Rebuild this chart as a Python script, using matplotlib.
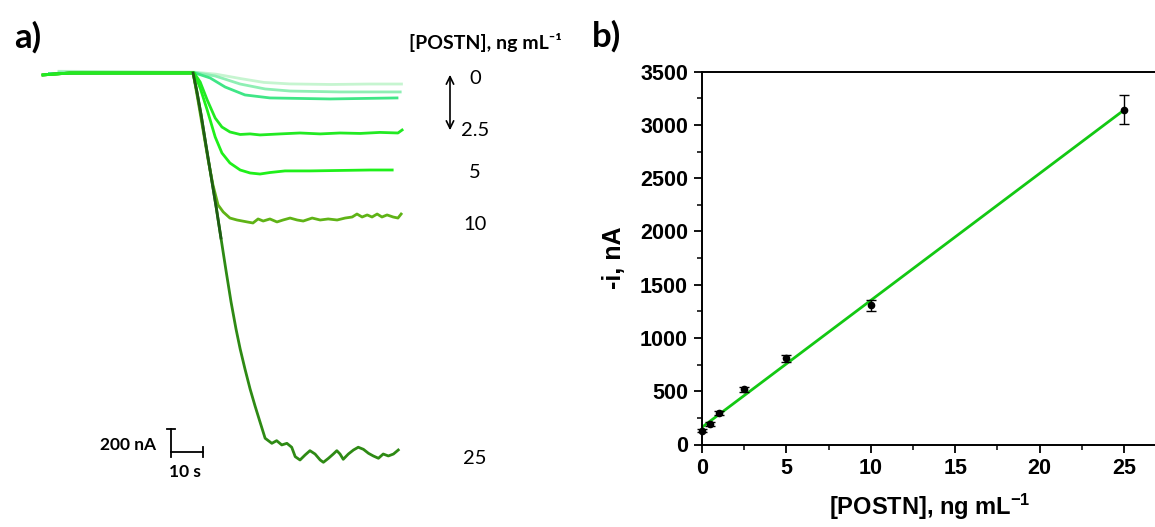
import matplotlib
matplotlib.use('Agg')
import matplotlib.pyplot as plt
from matplotlib.ticker import MultipleLocator

plt.rcParams['mathtext.fontset'] = 'custom'
plt.rcParams['mathtext.rm'] = 'Liberation Sans:bold'
plt.rcParams['mathtext.bf'] = 'Liberation Sans:bold'
plt.rcParams['mathtext.default'] = 'rm'

# ---- panel a: chronoamperometric traces (time in s, current in nA) ----
conc_labels = ['0', '2.5', '5', '10', '25']

t_0 = [5, 47, 54, 62, 69, 77, 90, 102, 112]
i_0 = [15, 8, -10, -50, -82, -95, -100, -96, -96]

t_05 = [5, 47.5, 53.8, 61.6, 69.4, 77.2, 92.8, 111.6]
i_05 = [9, 4, -26, -96, -139, -157, -165, -165]

t_1 = [2, 47.5, 52.2, 56.9, 63.1, 70.9, 89.7, 110.6]
i_1 = [-4, 0, -43, -122, -191, -217, -226, -217]

t_25 = [0, 8.4, 47.2, 49.1, 51.3, 53.8, 55.9, 58.4, 61.6, 64.7, 67.8, 74.1,
        80.3, 86.6, 92.8, 99.1, 105.3, 110.9, 112.2]
i_25 = [-17, 0, 0, -78, -235, -392, -470, -513, -535, -530, -539, -530,
        -522, -530, -522, -526, -517, -522, -496]

t_5 = [0, 8.4, 47.2, 49.1, 51.3, 53.8, 55.9, 58.4, 61.6, 64.7, 67.8, 70.9,
       75.6, 83.4, 92.8, 102.2, 109.1]
i_5 = [-17, 0, 0, -130, -322, -557, -696, -783, -844, -870, -879, -866,
       -852, -852, -848, -844, -844]

t_10 = [0, 8.4, 46.9, 48.4, 50.0, 51.6, 53.1, 54.7, 56.3, 58.4, 60.6, 63.8,
        65.6, 67.2, 68.8, 70.9, 73.1, 75.0, 77.2, 79.4, 81.3, 84.1, 86.6,
        89.1, 91.9, 94.4, 96.6, 98.1, 99.7, 101.3, 102.8, 104.4, 105.9,
        107.5, 109.4, 110.9, 111.9]
i_10 = [-17, 0, 0, -235, -496, -757, -974, -1148, -1209, -1262, -1279, -1296,
        -1305, -1270, -1288, -1270, -1296, -1279, -1262, -1279, -1288, -1262,
        -1279, -1270, -1279, -1262, -1253, -1227, -1253, -1235, -1253, -1227,
        -1253, -1235, -1253, -1262, -1227]

t_250 = [0, 8.4, 46.9, 48.1, 49.4, 50.9, 52.5, 54.1, 55.6, 57.2, 58.75,
         60.3, 61.6, 63.1, 64.7, 66.25, 67.8, 69.4, 71.5, 73.0, 74.6, 76.2,
         77.7, 78.8, 80.3, 81.9, 83.4, 85.0, 86.6, 87.6, 89.2, 90.7, 91.8,
         92.8, 93.8, 95.4, 97.0, 98.5, 100.1, 101.7, 103.2, 104.8, 106.3,
         107.9, 109.5, 111.0]
i_250 = [-17, 0, 0, -165, -365, -626, -896, -1166, -1436, -1723, -1992,
         -2227, -2401, -2575, -2749, -2897, -3036, -3178, -3222, -3199,
         -3236, -3222, -3256, -3338, -3367, -3323, -3286, -3315, -3367,
         -3387, -3352, -3315, -3286, -3315, -3361, -3315, -3280, -3256,
         -3274, -3309, -3332, -3352, -3315, -3332, -3315, -3280]

# dark upper part of the steepest decay
t_dark = [46.9, 48.1, 49.4, 50.9, 52.5, 54.1, 55.6]
i_dark = [0, -165, -365, -626, -896, -1166, -1436]

# ---- panel b: calibration ----
conc = [0, 0.5, 1, 2.5, 5, 10, 25]
current = [129, 192, 298, 518, 808, 1305, 3144]
current_err = [12, 15, 18, 22, 31, 55, 136]
fit_x = [0, 25]
fit_y = [162, 3140]

W, H = 1155, 527
fig = plt.figure(figsize=(W / 100, H / 100), dpi=100)


def fx(x):
    return x / W


def fy(y):
    return 1 - y / H


# ---------- panel a ----------
ax = fig.add_axes([0, 0, 0.5, 1])
ax.set_xlim(-13.44, 167.0)
ax.set_ylim(-3950, 635)
ax.axis('off')

lw = 2.0
ax.plot(t_0, i_0, color='#c6f5d0', lw=lw)
ax.plot(t_05, i_05, color='#8eefb4', lw=lw)
ax.plot(t_1, i_1, color='#3fe686', lw=lw)
ax.plot(t_250, i_250, color='#2e8a14', lw=lw)
ax.plot(t_10, i_10, color='#5fb316', lw=lw)
ax.plot(t_5, i_5, color='#1ff01a', lw=lw)
ax.plot(t_25, i_25, color='#22ea22', lw=lw)
ax.plot(t_dark, i_dark, color='#1f5c14', lw=lw)

# scale bar: 200 nA / 10 s
sb_t, sb_i = 40.0, -3297
ax.plot([sb_t, sb_t], [sb_i, sb_i + 200], color='black', lw=1.3)
ax.plot([sb_t - 1.2, sb_t + 1.2], [sb_i + 200, sb_i + 200], color='black', lw=1.3)
ax.plot([sb_t, sb_t + 10], [sb_i, sb_i], color='black', lw=1.3)
ax.plot([sb_t + 10, sb_t + 10], [sb_i - 45, sb_i + 45], color='black', lw=1.3)
ax.plot([sb_t, sb_t], [sb_i - 40, sb_i], color='black', lw=1.3)

lfont = ['Lato', 'DejaVu Sans']
fig.text(fx(156), fy(445), '200 nA', ha='right', va='center',
         fontsize=12.5, fontweight='bold', family=lfont)
fig.text(fx(185), fy(472), '10 s', ha='center', va='center',
         fontsize=12.5, fontweight='bold', family=lfont)

fig.text(fx(28), fy(37), 'a)', ha='center', va='center',
         fontsize=25, fontweight='bold', family=lfont)
fig.text(fx(485), fy(42), '[POSTN], ng mL\u207b\u00b9', ha='center',
         va='center', fontsize=14, fontweight='bold', family=lfont)

label_y = [78, 130, 173, 224, 459]
for lab, yy in zip(conc_labels, label_y):
    fig.text(fx(475), fy(yy), lab, ha='center', va='center',
             fontsize=14.5, family=lfont)

fig.add_artist(matplotlib.patches.FancyArrowPatch(
    (fx(450), fy(72)), (fx(450), fy(133)), transform=fig.transFigure,
    arrowstyle='<->,head_length=0.45,head_width=0.22', mutation_scale=12,
    color='black', lw=1.2))

# ---------- panel b ----------
x0 = 702
bx = fig.add_axes([fx(x0), fy(444.5), 27 * 16.88 / W, (444.5 - 71.7) / H])
bx.set_xlim(0, 27)
bx.set_ylim(0, 3500)

bx.plot(fit_x, fit_y, color='#13c813', lw=2.0, zorder=2)
bx.errorbar(conc, current, yerr=current_err, fmt='o', color='black',
            ms=4.5, elinewidth=1.0, capsize=3.5, capthick=1.0,
            clip_on=False, zorder=3)

bx.spines['right'].set_visible(False)
for s in ['left', 'bottom', 'top']:
    bx.spines[s].set_linewidth(1.4)
bx.set_xticks([0, 5, 10, 15, 20, 25])
bx.xaxis.set_minor_locator(MultipleLocator(2.5))
bx.yaxis.set_major_locator(MultipleLocator(500))
bx.yaxis.set_minor_locator(MultipleLocator(250))
bx.tick_params(which='major', direction='out', length=6, width=1.3,
               labelsize=15.5, pad=4)
bx.tick_params(which='minor', direction='out', length=3.5, width=1.1)
bx.tick_params(top=False, right=False, which='both')

rfont = ['Liberation Sans', 'DejaVu Sans']
for lab in bx.get_xticklabels() + bx.get_yticklabels():
    lab.set_family(rfont)
    lab.set_fontweight('bold')

bx.set_xlabel('[POSTN], ng mL$^{-1}$', fontsize=17, fontweight='bold',
              family=rfont, labelpad=9)
bx.set_ylabel('-i, nA', fontsize=18, fontweight='bold', family=rfont,
              labelpad=10)

fig.text(fx(606), fy(36), 'b)', ha='center', va='center',
         fontsize=25, fontweight='bold', family=lfont)

fig.savefig('out.png', dpi=100)
